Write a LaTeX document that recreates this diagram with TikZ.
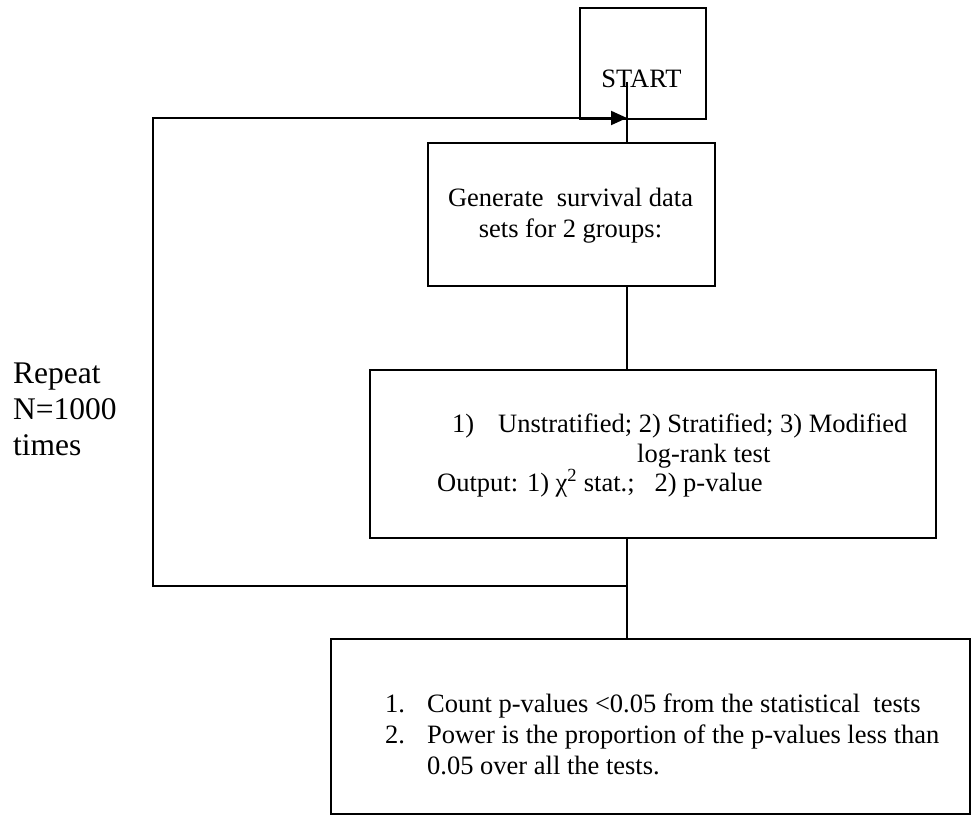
\documentclass[tikz,border=0pt]{standalone}
\usepackage{fontspec}
\setmainfont{Liberation Serif}
\usetikzlibrary{arrows.meta}
\begin{document}
\begin{tikzpicture}[x=1pt,y=-1pt,
  box/.style={draw, line width=2pt, anchor=north west, inner sep=0pt},
  txt/.style={inner sep=0pt, font=\fontsize{26.5}{31}\selectfont},
  big/.style={inner sep=0pt, font=\fontsize{31.5}{36}\selectfont},
  conn/.style={line width=2pt}]
\useasboundingbox (0,0) rectangle (972,821);
% boxes
\node[box, minimum width=126pt, minimum height=111pt] (start) at (579,7) {};
\node[box, minimum width=287pt, minimum height=143pt] (gen) at (427,142) {};
\node[box, minimum width=566pt, minimum height=168pt] (tests) at (369,369) {};
\node[box, minimum width=639pt, minimum height=175pt] (result) at (330,638) {};
% texts
\node[txt, anchor=base] (tstart) at (641.5,88) {START};
\node[txt, anchor=base] (tgen1) at (570.5,207) {Generate~ survival data};
\node[txt, anchor=base] (tgen2) at (570.5,238) {sets for 2 groups:};
\node[txt, anchor=base west] (tn1) at (452,432) {1)};
\node[txt, anchor=base west] (tl1) at (498,432) {Unstratified; 2) Stratified; 3) Modified};
\node[txt, anchor=base west] (tl2) at (637,462) {log-rank test};
\node[txt, anchor=base west] (tl3) at (437,491) {Output: 1) χ\textsuperscript{2} stat.;~~ 2) p-value};
\node[txt, anchor=base west] (rn1) at (385,712) {1.};
\node[txt, anchor=base west] (r1) at (427,712) {Count p-values <0.05 from the statistical~ tests};
\node[txt, anchor=base west] (rn2) at (385,743) {2.};
\node[txt, anchor=base west] (r2) at (427,743) {Power is the proportion of the p-values less than};
\node[txt, anchor=base west] (r3) at (427,774) {0.05 over all the tests.};
\node[big, anchor=base west] (rep1) at (13,383) {Repeat};
\node[big, anchor=base west] (rep2) at (13,419) {N=1000};
\node[big, anchor=base west] (rep3) at (13,455) {times};
% connectors
\coordinate (vx) at (627,82);
\coordinate (loopBL) at (153,586);
\coordinate (loopTL) at (153,118);
\draw[conn] (vx) -- (vx |- gen.north);
\draw[conn] (vx |- gen.south) -- (vx |- tests.north);
\draw[conn] (vx |- tests.south) -- (vx |- result.north);
\draw[conn, -{Triangle[length=16pt,width=14pt]}] (vx |- loopBL) -- (loopBL) -- (loopTL) -- (vx |- loopTL);
\end{tikzpicture}
\end{document}
